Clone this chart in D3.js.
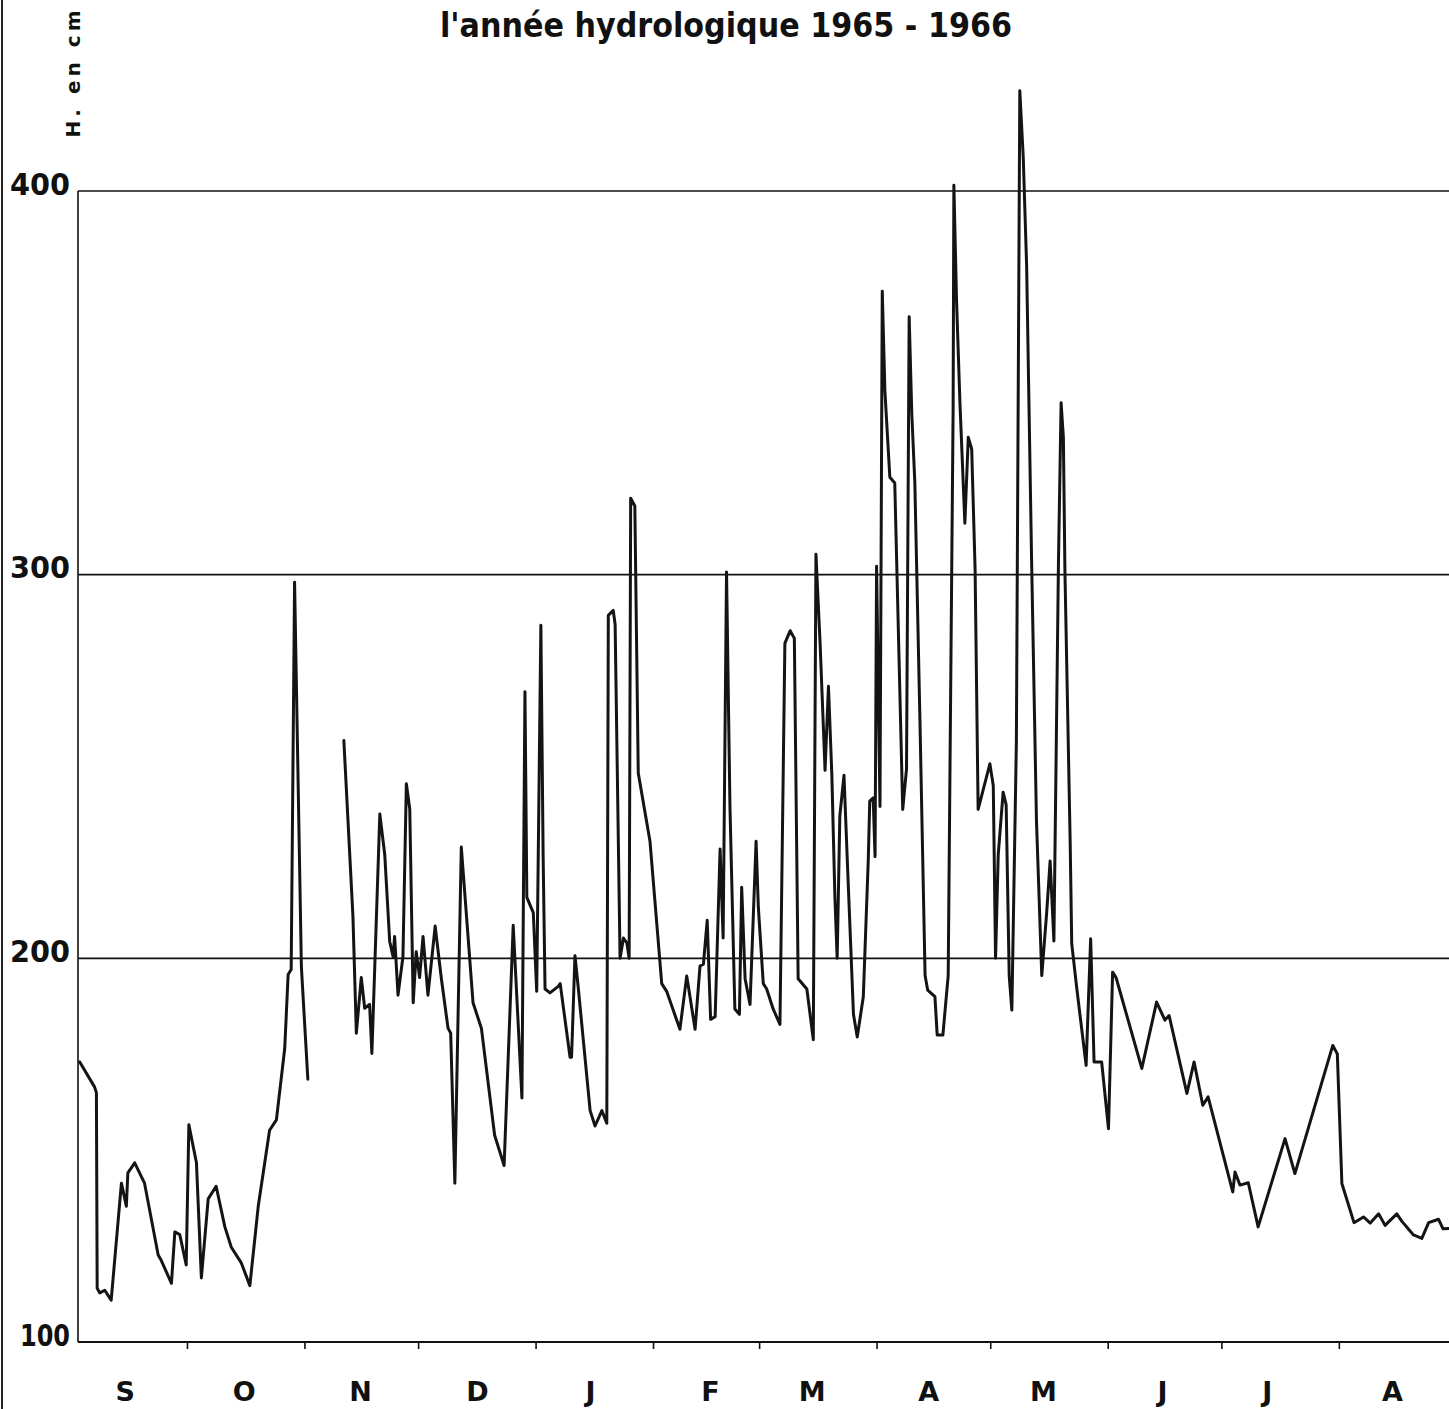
<!DOCTYPE html>
<html><head><meta charset="utf-8">
<script src="https://cdn.jsdelivr.net/npm/d3@7"></script>
<style>body{margin:0;background:#fff} svg{display:block}</style>
</head><body>
<script>
// Hydrological year 1965-1966, day offsets counted from 1 September 1965
const monthLabels = ["S","O","N","D","J","F","M","A","M","J","J","A"];
const monthStartDays = [0,30,61,91,122,153,181,212,242,273,303,334,365];
const monthLabelDays = [13.6,45.0,75.7,106.5,136.4,168.0,194.9,225.6,255.9,287.3,315.0,348.0];
const yTickValues = [100,200,300,400];
const gridValues = [200,300,400];

const dayOffsets = [
 1.7,5.6,6.1,6.3,7.0,8.3,10.0,12.7,14.0,14.4,16.2,18.8,22.4,23.2,25.9,26.8,28.1,29.8,30.5,32.5,
 33.8,35.6,37.7,40.0,41.7,44.3,46.6,48.8,51.8,53.6,55.8,56.7,57.5,58.4,60.2,61.9,
 66.0,
 71.4,73.8,74.7,76.0,76.9,78.2,78.8,80.9,82.2,83.5,84.4,84.8,85.7,87.0,87.9,88.8,89.7,90.5,91.4,92.3,
 93.6,95.5,97.1,98.9,99.6,100.7,102.4,105.5,107.7,111.2,113.7,116.1,118.4,119.2,119.7,120.5,121.4,122.3,123.4,124.0,
 124.5,125.8,128.0,128.5,131.1,131.5,132.4,133.3,136.4,137.7,139.5,140.8,141.2,142.5,143.0,144.3,145.2,146.1,146.7,147.1,
 148.2,149.1,152.2,155.3,156.6,160.1,161.9,164.1,165.4,166.3,167.3,168.2,169.4,170.7,171.5,172.4,173.3,174.6,175.8,176.4,
 177.3,178.6,180.2,180.8,182.1,183.0,184.7,186.5,187.8,189.2,190.3,191.3,193.6,195.3,196.0,197.1,198.4,199.3,200.2,201.0,
 201.6,202.3,203.4,204.5,205.9,206.9,208.5,209.8,210.2,211.1,211.6,212.0,212.9,213.5,214.2,215.5,216.8,218.9,219.9,220.6,
 221.3,222.1,223.4,224.8,225.5,227.4,228.0,229.5,230.9,232.2,232.4,233.1,234.0,235.3,236.2,237.1,238.0,238.8,241.9,242.8,
 243.4,244.1,245.4,246.2,247.0,247.7,248.9,249.8,250.7,251.6,252.9,254.2,255.6,256.9,257.8,258.8,260.0,260.7,261.3,261.7,
 263.1,263.5,264.8,267.3,268.5,269.4,271.4,273.2,274.3,275.2,282.0,285.9,288.1,289.2,293.9,295.8,298.1,299.5,306.0,306.6,
 307.9,310.1,312.7,319.8,322.4,332.4,333.6,334.8,338.0,340.5,342.3,344.5,346.2,349.3,350.6,353.7,355.9,357.7,360.3,361.5,
 363.0
];
const levels = [
 173,166.5,165,114,112.8,113.5,110.9,141.4,135.4,144.1,146.7,141.4,122.7,121.3,115.3,128.7,128,120.1,156.6,146.7,
 116.7,137.3,140.6,130,124.7,120.7,114.7,135.3,155.2,157.9,176.5,195.8,197.1,298,197.7,168.5,
 null,
 256.8,211,180.5,195,187,188,175.2,237.6,227,204.4,200.4,205.7,190.4,200.4,245.5,238.9,188.4,201.7,195,205.7,
 190.4,208.4,195,181.8,180.5,141.4,229,188.4,181.8,153.9,146,208.6,163.6,269.5,215.9,214,211.9,191.4,286.8,226.5,
 192,191,192.7,193.4,174.2,174.2,200.7,192,160.3,156.3,160.3,157,289.4,290.7,287,200,205.3,204,200,319.9,
 317.9,248.3,230.5,193.4,191.4,181.5,195.4,181.5,198,198.5,209.9,184.1,184.8,228.5,205.3,300.7,239.7,186.8,185.4,218.5,
 194.7,188,230.5,213.2,193.4,192,186.8,182.8,282.1,285.4,283.4,194.7,192,178.8,305.3,282,249,270.9,247.7,215.9,
 200,237.1,247.7,219.9,185.4,179.5,190,225.4,241,241.8,226.5,302.2,239.6,373.9,347.8,325.4,323.9,238.8,249.3,367.2,
 341.8,323.9,264.2,195.5,191.7,190,180,180,195.5,343,401.5,371.6,344.8,313.4,335.8,332.8,301.5,238.8,250.7,245,
 200,226.9,243.3,240,195.5,186.5,256.7,426.1,409,380.6,304.5,235.8,195.5,212,225.4,204.5,303,344.8,335.8,301.5,
 229.9,203.9,192.5,172.1,205.1,173,173,155.6,196.4,195,171.3,188.6,183.9,185.1,164.8,173,161.7,163.9,139.1,144.3,
 140.9,141.5,130,153,143.9,177.3,175.1,141.3,131.1,132.6,131,133.4,130.4,133.4,131.5,127.9,127,131.1,132,129.5,
 129.6
];

const W = 1449, H = 1409;
const plotLeft = 78, plotRight = 1449;
const svg = d3.select("body").append("svg").attr("width", W).attr("height", H);

const x = d3.scaleLinear().domain([0, 365]).range([73.3, 1456.3]);
const y = d3.scaleLinear().domain([100, 400]).range([1342, 191]);

// page border on the left
svg.append("line").attr("x1", 2).attr("x2", 2).attr("y1", 0).attr("y2", H)
  .attr("stroke", "#222").attr("stroke-width", 2);

// gridlines
svg.append("g").selectAll("line").data(gridValues).join("line")
  .attr("x1", plotLeft).attr("x2", plotRight)
  .attr("y1", d => y(d)).attr("y2", d => y(d))
  .attr("stroke", "#111").attr("stroke-width", 1.6);

// left axis line
svg.append("line").attr("x1", plotLeft).attr("x2", plotLeft)
  .attr("y1", y(400)).attr("y2", y(100)).attr("stroke", "#111").attr("stroke-width", 1.6);

// bottom axis with month-boundary ticks
const xAxis = svg.append("g").attr("transform", `translate(0,${y(100)})`)
  .call(d3.axisBottom(x).tickValues(monthStartDays.slice(1, 12)).tickSize(7).tickFormat(""));
xAxis.select(".domain").remove();
xAxis.selectAll(".tick line").attr("stroke", "#111").attr("stroke-width", 1.6);
svg.append("line").attr("x1", plotLeft).attr("x2", plotRight)
  .attr("y1", y(100)).attr("y2", y(100)).attr("stroke", "#111").attr("stroke-width", 1.8);

// month labels
const mAxis = svg.append("g").attr("transform", `translate(0,${y(100)})`)
  .call(d3.axisBottom(x).tickValues(monthLabelDays).tickSize(0).tickPadding(40)
    .tickFormat((d, i) => monthLabels[i]));
mAxis.select(".domain").remove();
mAxis.selectAll("text").attr("font-family", "DejaVu Sans, sans-serif")
  .attr("font-weight", "bold").attr("font-size", 27).attr("fill", "#111");

// y labels
const yAxis = svg.append("g").attr("transform", `translate(${plotLeft},0)`)
  .call(d3.axisLeft(y).tickValues(yTickValues).tickSize(0).tickPadding(8));
yAxis.select(".domain").remove();
yAxis.selectAll("text").attr("font-family", "DejaVu Sans, sans-serif")
  .attr("font-weight", "bold").attr("font-size", 30).attr("fill", "#111").attr("dy", "0.1em")
  .attr("textLength", d => d === 100 ? 50 : 60).attr("lengthAdjust", "spacingAndGlyphs");

// y axis title
svg.append("text").attr("transform", "translate(80,74) rotate(-90)")
  .attr("text-anchor", "middle").attr("font-family", "DejaVu Sans, sans-serif")
  .attr("font-weight", "bold").attr("font-size", 20).attr("fill", "#111")
  .attr("textLength", 127).attr("lengthAdjust", "spacing")
  .text("H. en cm");

// title (second line, first line cut off)
svg.append("text").attr("x", 726).attr("y", 37).attr("text-anchor", "middle")
  .attr("font-family", "DejaVu Sans Condensed, Liberation Sans Narrow, sans-serif")
  .attr("font-weight", "bold").attr("font-size", 34).attr("fill", "#111")
  .attr("textLength", 572).attr("lengthAdjust", "spacingAndGlyphs")
  .text("l'année hydrologique 1965 - 1966");

// data
const data = dayOffsets.map((d, i) => ({ d, v: levels[i] }));
const line = d3.line().defined(p => p.v !== null).x(p => x(p.d)).y(p => y(p.v));
svg.append("path").datum(data).attr("d", line)
  .attr("fill", "none").attr("stroke", "#141414").attr("stroke-width", 3)
  .attr("stroke-linejoin", "round").attr("stroke-linecap", "round");
</script>
</body></html>
